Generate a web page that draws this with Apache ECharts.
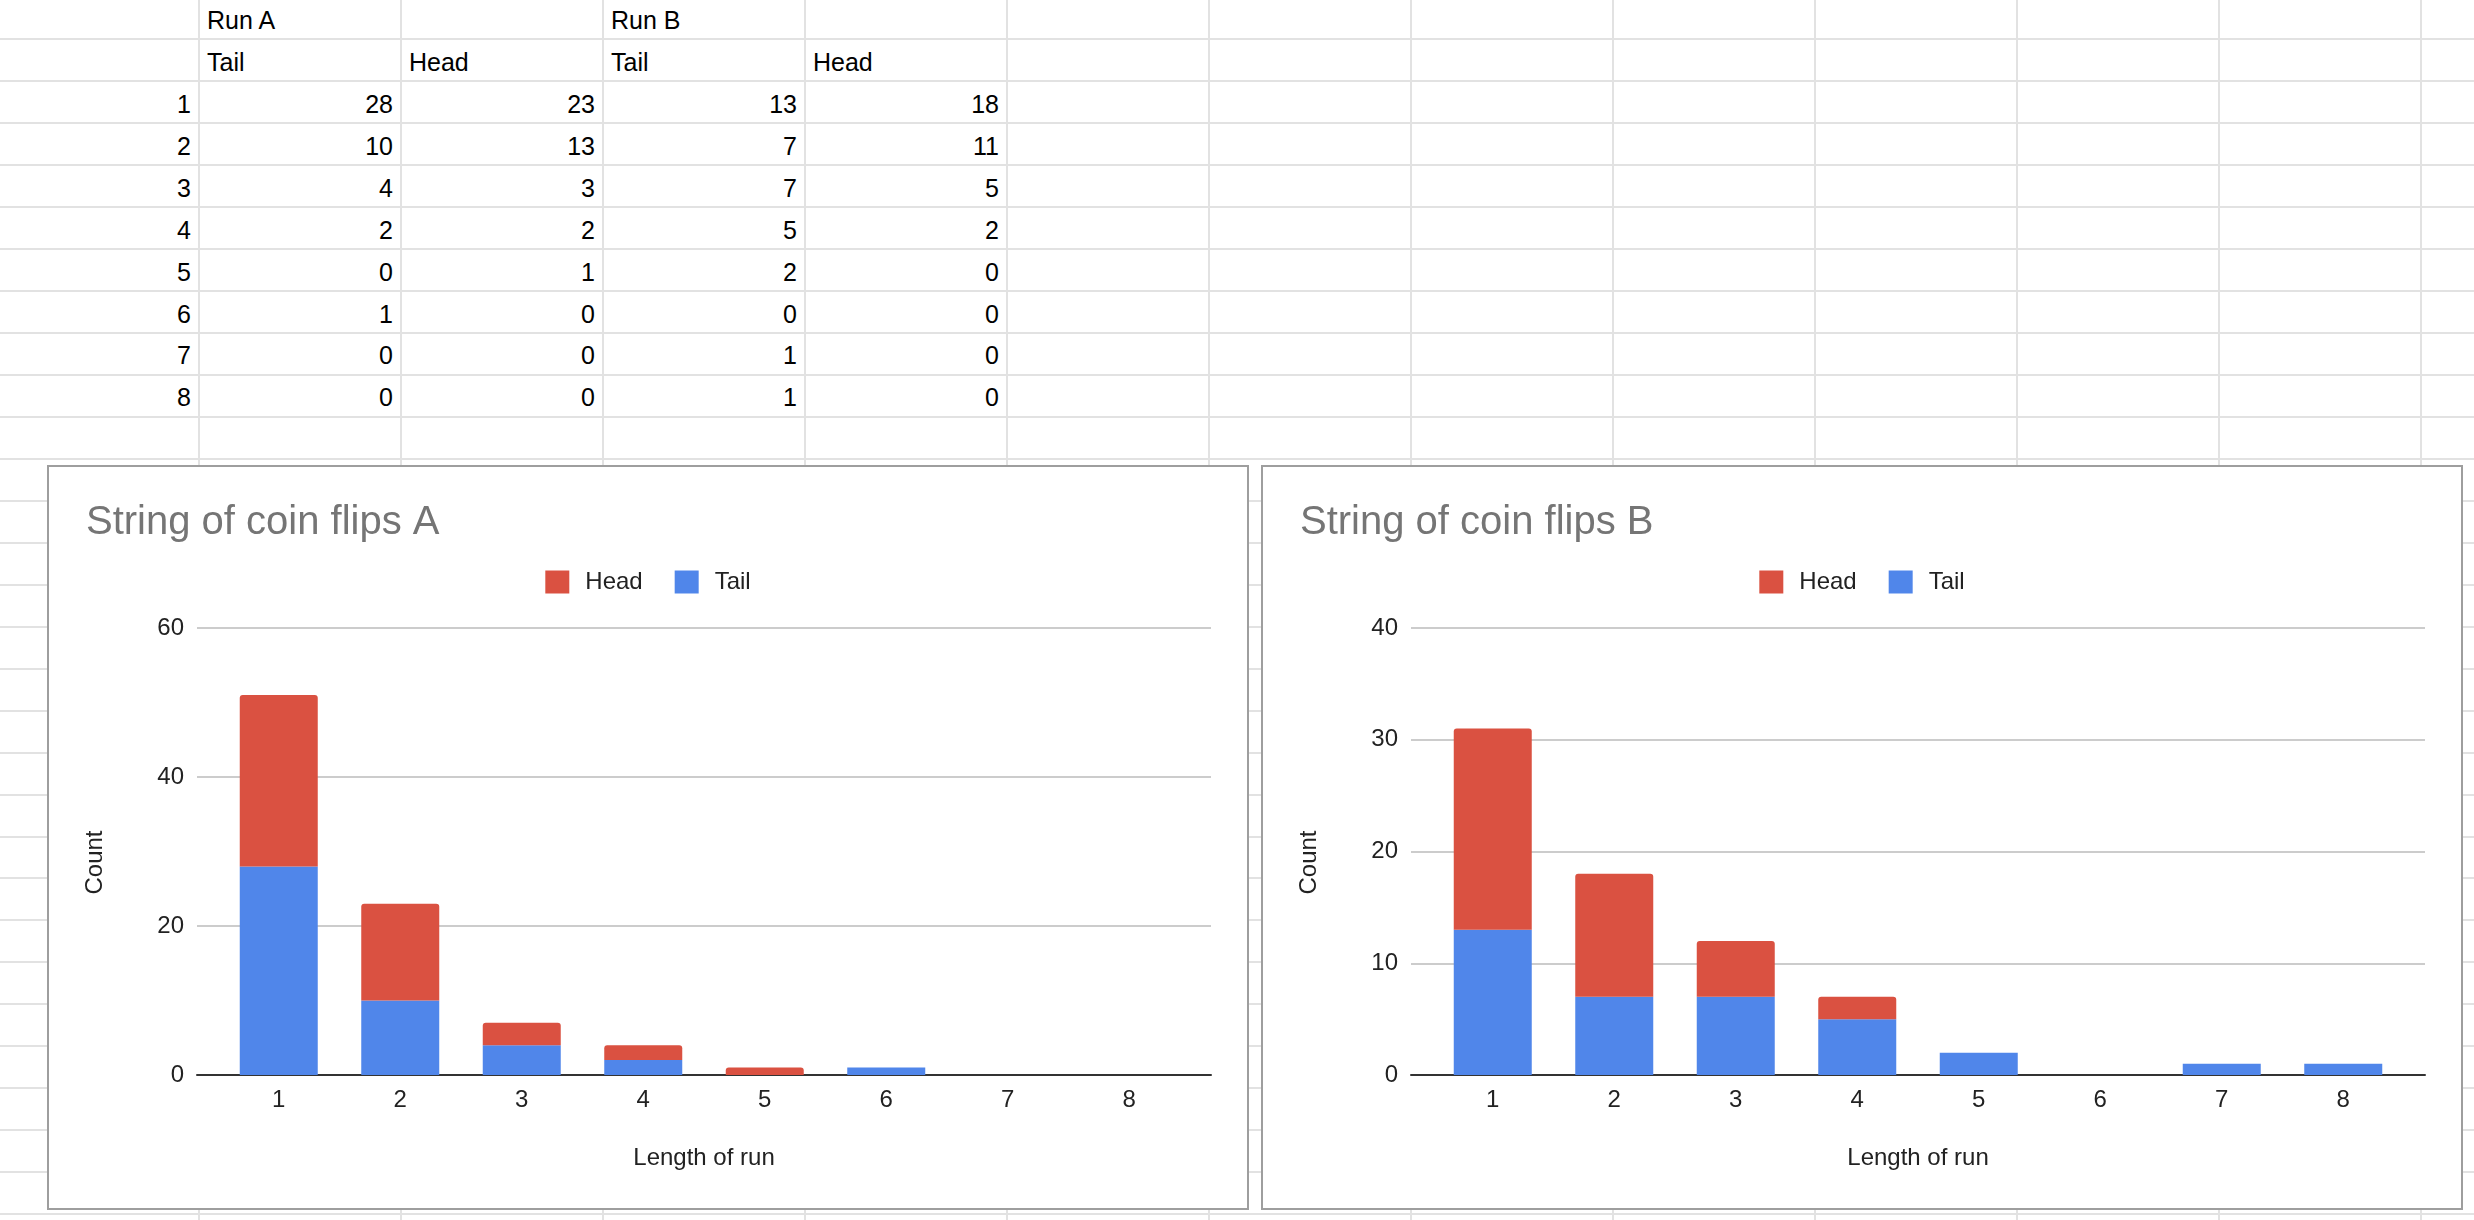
<!DOCTYPE html>
<html lang="en">
<head>
<meta charset="UTF-8" />
<title>String of coin flips</title>
<script src="https://cdn.jsdelivr.net/npm/echarts@6/dist/echarts.min.js"></script>
<style>
  html, body { margin: 0; padding: 0; background: #fff; }
  body {
    width: 2474px; height: 1220px; position: relative; overflow: hidden;
    font-family: "Liberation Sans", Arial, sans-serif;
  }
  .hline, .vline { position: absolute; background: #e2e2e2; }
  .cell {
    position: absolute; height: 42px; line-height: 42px;
    font-size: 25px; color: #000; white-space: nowrap;
  }
  .box {
    position: absolute; top: 465px; width: 1202px; height: 745px;
    box-sizing: border-box; border: 2px solid #9e9e9e; background: #fff;
  }
  .chart { width: 1198px; height: 741px; }
</style>
</head>
<body>
<div id="sheet"></div>
<div class="box" style="left:47px"><div class="chart" id="chartA"></div></div>
<div class="box" style="left:1261px"><div class="chart" id="chartB"></div></div>
<script>
  // data from the sheet
  var runLengths = ["1", "2", "3", "4", "5", "6", "7", "8"];
  var tailA = [28, 10, 4, 2, 0, 1, 0, 0];
  var headA = [23, 13, 3, 2, 1, 0, 0, 0];
  var tailB = [13, 7, 7, 5, 2, 0, 1, 1];
  var headB = [18, 11, 5, 2, 0, 0, 0, 0];

  var BLUE = "#5086ea";
  var RED = "#da5141";
  var FONT = '"Liberation Sans", Arial, sans-serif';

  // ---- spreadsheet background ----
  var sheet = document.getElementById("sheet");
  var rowH = 41.96, row0 = -2.7, colW = 202, col0 = 199;

  function addDiv(cls, css, text) {
    var d = document.createElement("div");
    d.className = cls;
    d.style.cssText = css;
    if (text !== undefined) d.textContent = text;
    sheet.appendChild(d);
  }
  for (var k = 1; k < 30; k++) {
    addDiv("hline", "left:0;width:2474px;height:2px;top:" + (row0 + rowH * k - 1) + "px");
  }
  for (var c = 0; c < 12; c++) {
    // merged "Run A" / "Run B" cells have no inner line in the first row
    var top = (c === 1 || c === 3) ? row0 + rowH - 1 : 0;
    addDiv("vline", "top:" + top + "px;height:1220px;width:2px;left:" + (col0 + colW * c - 1) + "px");
  }
  function colLeft(c) { return c === 0 ? 0 : col0 + colW * (c - 1); }
  function colWidth(c) { return c === 0 ? col0 : colW; }
  function textCell(r, c, txt) {
    addDiv("cell", "top:" + (row0 + rowH * r + 1.5) + "px;left:" + (colLeft(c) + 8) + "px", txt);
  }
  function numCell(r, c, txt) {
    addDiv("cell", "top:" + (row0 + rowH * r + 1.5) + "px;left:" + colLeft(c) +
      "px;width:" + (colWidth(c) - 8) + "px;text-align:right", txt);
  }
  textCell(0, 1, "Run A");
  textCell(0, 3, "Run B");
  textCell(1, 1, "Tail");
  textCell(1, 2, "Head");
  textCell(1, 3, "Tail");
  textCell(1, 4, "Head");
  for (var i = 0; i < runLengths.length; i++) {
    numCell(i + 2, 0, runLengths[i]);
    numCell(i + 2, 1, tailA[i]);
    numCell(i + 2, 2, headA[i]);
    numCell(i + 2, 3, tailB[i]);
    numCell(i + 2, 4, headB[i]);
  }

  // ---- charts ----
  // grid 0 is the full plot frame (gridlines, baseline, y labels);
  // grid 1 is a little narrower and holds the bars, like Google Sheets does
  function makeOption(title, tail, head, yMax, yStep) {
    var label = { fontSize: 24, color: "#222", fontFamily: FONT };
    return {
      animation: false,
      textStyle: { fontFamily: FONT },
      title: {
        text: title, left: 37, top: 36, padding: 0,
        textStyle: { fontSize: 40, fontWeight: "normal", color: "#757575", fontFamily: FONT }
      },
      legend: {
        data: ["Head", "Tail"],
        left: "center", top: 98,
        icon: "rect", itemWidth: 24, itemHeight: 23, itemGap: 32,
        textStyle: { fontSize: 24, color: "#222", fontFamily: FONT, padding: [0, 0, 0, 11] }
      },
      grid: [
        { left: 148, top: 161, width: 1014, height: 447 },
        { left: 169, top: 161, width: 972, height: 447 }
      ],
      xAxis: [
        {
          gridIndex: 0, type: "category", data: runLengths,
          axisLine: { lineStyle: { color: "#333", width: 2 } },
          axisTick: { show: false },
          axisLabel: { show: false }
        },
        {
          gridIndex: 1, type: "category", data: runLengths,
          name: "Length of run", nameLocation: "middle", nameGap: 71,
          nameTextStyle: label,
          axisLine: { show: false },
          axisTick: { show: false },
          axisLabel: Object.assign({ margin: 13 }, label)
        }
      ],
      yAxis: [
        {
          gridIndex: 0, type: "value", min: 0, max: yMax, interval: yStep,
          name: "Count", nameLocation: "middle", nameGap: 90,
          nameTextStyle: Object.assign({ padding: [0, 22, 0, 0] }, label),
          axisLine: { show: false },
          axisTick: { show: false },
          axisLabel: Object.assign({ margin: 13 }, label),
          splitLine: { lineStyle: { color: "#cccccc", width: 2 } }
        },
        {
          gridIndex: 1, type: "value", min: 0, max: yMax, interval: yStep,
          axisLine: { show: false },
          axisTick: { show: false },
          axisLabel: { show: false },
          splitLine: { show: false }
        }
      ],
      series: [
        {
          name: "Tail", type: "bar", stack: "run", barWidth: 78,
          xAxisIndex: 1, yAxisIndex: 1,
          itemStyle: { color: BLUE },
          data: tail
        },
        {
          name: "Head", type: "bar", stack: "run", barWidth: 78,
          xAxisIndex: 1, yAxisIndex: 1,
          itemStyle: { color: RED, borderRadius: [3, 3, 0, 0] },
          data: head
        }
      ]
    };
  }

  var chartA = echarts.init(document.getElementById("chartA"));
  chartA.setOption(makeOption("String of coin flips A", tailA, headA, 60, 20));
  var chartB = echarts.init(document.getElementById("chartB"));
  chartB.setOption(makeOption("String of coin flips B", tailB, headB, 40, 10));
</script>
</body>
</html>
